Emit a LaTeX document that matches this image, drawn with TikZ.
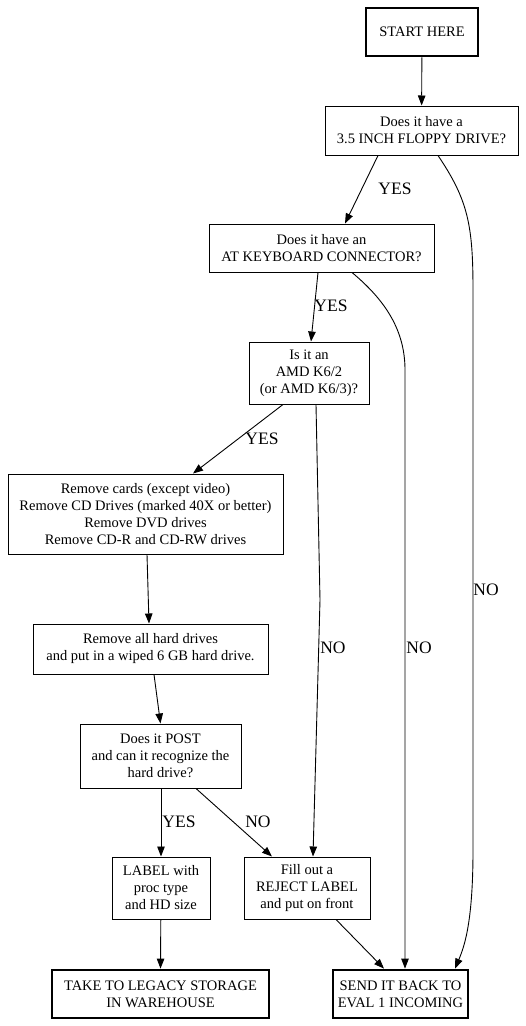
\documentclass[tikz,border=0pt]{standalone}
\usepackage{fontspec}
\setmainfont{Liberation Serif}
\usetikzlibrary{arrows.meta,positioning}

\begin{document}
\begin{tikzpicture}[x=1pt,y=-1pt,
  box/.style={draw, line width=1pt, align=center, inner sep=2pt,
    font=\fontsize{14.5}{17}\selectfont},
  endbox/.style={box, line width=2.8pt},
  lbl/.style={font=\fontsize{17.5}{17.5}\selectfont, inner sep=0pt},
  flow/.style={line width=0.9pt, -{Triangle[length=10pt,width=7.5pt]}}]
\useasboundingbox (0,0) rectangle (526,1026);
\node[endbox, minimum width=112pt, minimum height=48pt] (start) at (422,32) {START HERE};
\node[box, minimum width=193pt, minimum height=49pt] (floppy) at (421.5,130.5) {Does it have a\\3.5 INCH FLOPPY DRIVE?};
\node[box, minimum width=225pt, minimum height=48pt] (kbd) at (321.5,248) {Does it have an\\AT KEYBOARD CONNECTOR?};
\node[box, minimum width=120pt, minimum height=62pt] (amd) at (309,373) {Is it an\\AMD K6/2\\(or AMD K6/3)?};
\node[box, minimum width=275pt, minimum height=80pt] (cards) at (145.5,514) {Remove cards (except video)\\Remove CD Drives (marked 40X or better)\\Remove DVD drives\\Remove CD-R and CD-RW drives};
\node[box, minimum width=235pt, minimum height=50pt] (hd) at (150.5,649) {Remove all hard drives\\and put in a wiped 6 GB hard drive.};
\node[box, minimum width=161pt, minimum height=64pt] (post) at (160.5,756) {Does it POST\\and can it recognize the\\hard drive?};
\node[box, minimum width=98pt, minimum height=62pt] (label) at (161,888) {LABEL with\\proc type\\and HD size};
\node[box, minimum width=126pt, minimum height=62pt] (reject) at (307,888) {Fill out a\\REJECT LABEL\\and put on front};
\node[endbox, minimum width=217pt, minimum height=48pt] (legacy) at (160.5,994) {TAKE TO LEGACY STORAGE\\IN WAREHOUSE};
\node[endbox, minimum width=135pt, minimum height=48pt] (send) at (400.5,994) {SEND IT BACK TO\\EVAL 1 INCOMING};

\draw[flow] (start) -- (floppy);
\draw[flow] ([xshift=-43.5pt]floppy.south) -- ([xshift=23.5pt]kbd.north);
\draw[flow] ([xshift=16.5pt]floppy.south) .. controls (468,200) and (473,225) .. (473,290)
  -- (473,850) .. controls (473,920) and (465,945) .. ([xshift=54.5pt]send.north);
\draw[flow] ([xshift=-3.5pt]kbd.south) -- ([xshift=2pt]amd.north);
\draw[flow] ([xshift=30.5pt]kbd.south) .. controls (385,300) and (405,330) .. (405,370)
  -- ([xshift=4.5pt]send.north);
\draw[flow] ([xshift=-26pt]amd.south) -- ([xshift=47.5pt]cards.north);
\draw[flow] ([xshift=7pt]amd.south) -- (320,600) -- ([xshift=6pt]reject.north);
\draw[flow] ([xshift=1.5pt]cards.south) -- ([xshift=-1.5pt]hd.north);
\draw[flow] ([xshift=3.5pt]hd.south) -- (post.north);
\draw[flow] ([xshift=0.5pt]post.south) -- (label);
\draw[flow] ([xshift=35.5pt]post.south) -- ([xshift=-35pt]reject.north);
\draw[flow] (label) -- (legacy.north);
\draw[flow] ([xshift=29pt]reject.south) -- ([xshift=-16.5pt]send.north);

\node[lbl] (l1) at (395,189) {YES};
\node[lbl] (l2) at (331,306) {YES};
\node[lbl] (l3) at (262,439) {YES};
\node[lbl] (l4) at (486,590) {NO};
\node[lbl] (l5) at (419,648) {NO};
\node[lbl] (l6) at (333,648) {NO};
\node[lbl] (l7) at (179,822) {YES};
\node[lbl] (l8) at (258,822) {NO};
\end{tikzpicture}
\end{document}
